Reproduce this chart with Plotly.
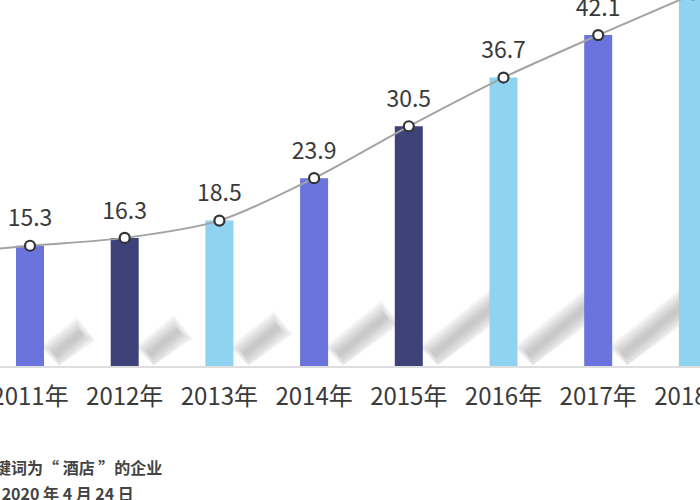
import plotly.graph_objects as go

years = ["2010年", "2011年", "2012年", "2013年", "2014年", "2015年", "2016年", "2017年", "2018年"]
values = [14.2, 15.3, 16.3, 18.5, 23.9, 30.5, 36.7, 42.1, 47.3]
bar_colors = ["#8fd3f0", "#6b74dc", "#3d4278", "#8fd3f0", "#6b74dc", "#3d4278", "#8fd3f0", "#6b74dc", "#8fd3f0"]
note_lines = ["关键词为“ 酒店 ”的企业", "截至 2020 年 4 月 24 日"]

FONT = "Noto Sans CJK SC"
xs = list(range(len(years)))

PX_X = 94.7   # pixels per category
PX_Y = 7.86   # pixels per unit
X0 = 30       # pixel position of category 1
BAR_W = 28

def sx(px):
    return px / PX_X

def sy(px):
    return px / PX_Y

# decorative soft cast shadows: length follows bar height, hidden under the next bar
shapes = []
dx, dy = 0.78, 0.63        # shadow direction (right, up) in pixels
nx, ny = 0.63, -0.78       # perpendicular
for i, v in zip(xs, values):
    h = v * PX_Y
    run = min(0.3 * h - 8, 62)
    length = run / dx
    sxp, syp = 24, 11
    exp_, eyp = sxp + dx * length, syp + dy * length
    for k in range(9):
        w = 2.5 + 1.6 * k
        e = max(w * 0.7 - 5, 0)
        ax, ay = sxp - dx * e, syp - dy * e
        bx, by = exp_ + dx * e, eyp + dy * e
        pts = [(ax + nx * w, ay + ny * w), (bx + nx * w, by + ny * w),
               (bx - nx * w, by - ny * w), (ax - nx * w, ay - ny * w)]
        pts = [(i + sx(px), sy(max(py, 0.5))) for px, py in pts]
        path = "M " + " L ".join(f"{px:.4f},{py:.4f}" for px, py in pts) + " Z"
        shapes.append(dict(type="path", xref="x", yref="y", layer="below", path=path,
                           fillcolor="#777777", opacity=0.055, line=dict(width=0)))

fig = go.Figure()

fig.add_trace(go.Bar(x=xs, y=values, marker=dict(color=bar_colors, line=dict(width=0)),
                     width=sx(BAR_W), hoverinfo="skip"))

fig.add_trace(go.Scatter(x=xs, y=values, mode="lines+markers",
                         line=dict(color="#a3a3a3", width=2, shape="spline", smoothing=0.8),
                         marker=dict(size=10, color="white", line=dict(color="#333333", width=2.2)),
                         hoverinfo="skip", cliponaxis=True))

fig.add_trace(go.Scatter(x=xs, y=values, mode="markers+text",
                         text=[f"{v:.1f}" for v in values], textposition="top center",
                         textfont=dict(family=FONT, size=23, color="#3a3a3a"),
                         marker=dict(size=20, opacity=0), hoverinfo="skip", cliponaxis=True))

plot_h = 366.0
fig.update_layout(
    width=700, height=500,
    margin=dict(l=0, r=0, t=0, b=500 - int(plot_h), autoexpand=False),
    paper_bgcolor="white", plot_bgcolor="white",
    showlegend=False,
    shapes=shapes,
    xaxis=dict(range=[1 - sx(X0), 1 + sx(700 - X0)], automargin=False,
               tickvals=xs, ticktext=years, showgrid=False, zeroline=False,
               showline=True, linecolor="#dedede", linewidth=1.5,
               ticks="outside", ticklen=8, tickcolor="rgba(0,0,0,0)",
               ticklabeloverflow="allow",
               tickfont=dict(family=FONT, size=24, color="#3a3a3a")),
    yaxis=dict(range=[0, sy(plot_h)], visible=False, showgrid=False, automargin=False),
    font=dict(family=FONT),
)

fig.add_annotation(text="<b>" + note_lines[0] + "</b>", xref="paper", yref="paper",
                   x=164 / 700, y=(plot_h - 467) / plot_h, xanchor="right", yanchor="middle",
                   showarrow=False, font=dict(family=FONT, size=16, color="#444444"))
fig.add_annotation(text="<b>" + note_lines[1] + "</b>", xref="paper", yref="paper",
                   x=136 / 700, y=(plot_h - 493) / plot_h, xanchor="right", yanchor="middle",
                   showarrow=False, font=dict(family=FONT, size=16, color="#444444"))

fig.write_html("out.html", config={"displayModeBar": False},
               post_script="document.body.style.margin='0';")
